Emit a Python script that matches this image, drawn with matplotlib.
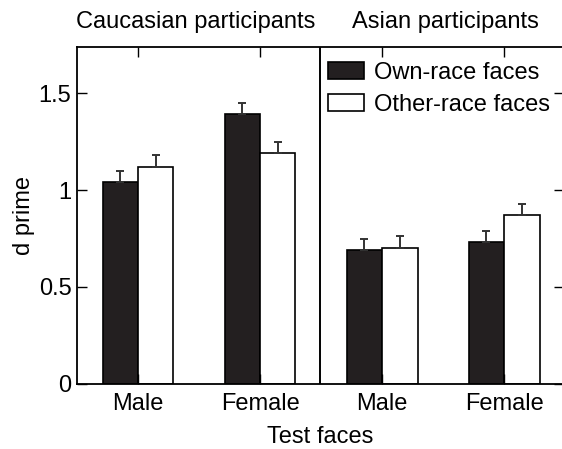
import matplotlib
matplotlib.use("Agg")
import matplotlib.pyplot as plt
import numpy as np

plt.rcParams["font.family"] = ["Liberation Sans", "DejaVu Sans"]

# dados
test_faces = ["Male", "Female", "Male", "Female"]
groups = ["Caucasian participants", "Asian participants"]
own_race = [1.043, 1.394, 0.691, 0.733]
other_race = [1.122, 1.190, 0.700, 0.869]
own_err = [0.057, 0.059, 0.057, 0.057]
other_err = [0.059, 0.058, 0.062, 0.059]

FS = 17
BAR_BLACK = "#231f20"

fig = plt.figure(figsize=(5.62, 4.49), dpi=100)
ax = fig.add_axes([77 / 562, 1 - 383.5 / 449, 487 / 562, (383.5 - 47) / 449])

x = np.arange(len(test_faces))
w = 0.29
ekw = dict(ecolor="#333333", elinewidth=1.4, capsize=2.8, capthick=1.4)
ax.bar(x - w / 2, own_race, w, color=BAR_BLACK, edgecolor="black", linewidth=1.2,
       yerr=[np.zeros(4), own_err], error_kw=ekw, label="Own-race faces")
ax.bar(x + w / 2, other_race, w, color="white", edgecolor="black", linewidth=1.2,
       yerr=[np.zeros(4), other_err], error_kw=ekw, label="Other-race faces")

ax.axvline(1.49, color="black", linewidth=1.4)

ax.set_xlim(-0.5, 3.49)
ax.set_ylim(0, 1.74)
ax.set_yticks([0, 0.5, 1, 1.5])
ax.set_yticklabels(["0", "0.5", "1", "1.5"])
ax.set_xticks(x)
ax.set_xticklabels(test_faces)
ax.tick_params(direction="in", length=7, width=1.0, labelsize=FS, pad=4,
               top=True, right=True)
ax.tick_params(axis="x", pad=7)
for s in ax.spines.values():
    s.set_linewidth(1.3)

ax.set_xlabel("Test faces", fontsize=FS, labelpad=8)
ax.set_ylabel("d prime", fontsize=FS, labelpad=3)

for gx, g in zip([0.47, 2.52], groups):
    ax.text(gx, 1.0 + 19 / 336.5, g, transform=ax.get_xaxis_transform(),
            ha="center", va="baseline", fontsize=FS)

ax.legend(loc="upper left", bbox_to_anchor=(0.515, 0.955), frameon=False,
          fontsize=FS, borderpad=0, borderaxespad=0, handlelength=1.55,
          handleheight=0.72, handletextpad=0.4, labelspacing=0.42)

fig.savefig("out.png", dpi=100)
